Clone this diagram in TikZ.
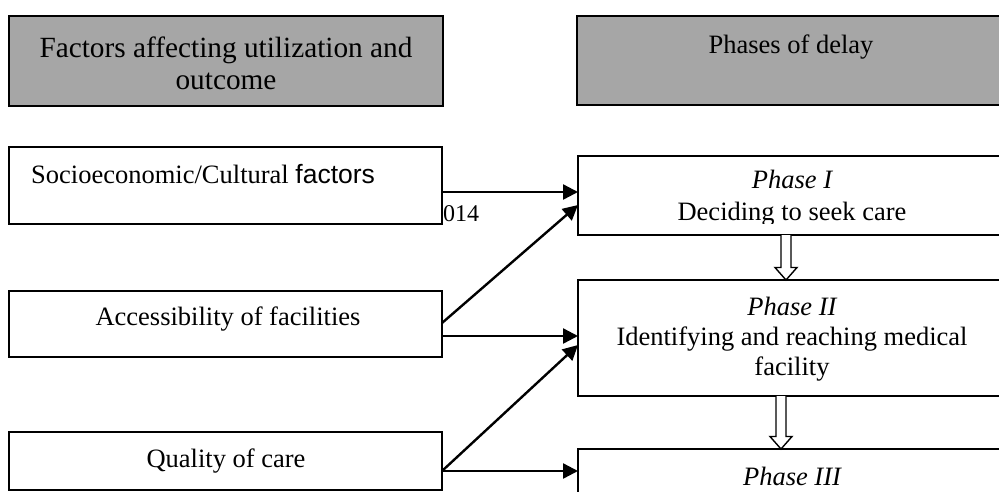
\documentclass[tikz,border=0pt]{standalone}
\usepackage{fontspec}
\setmainfont{Liberation Serif}
\newfontfamily\arialfont{Liberation Sans}
\usetikzlibrary{arrows.meta,calc}
\definecolor{hdrgray}{RGB}{166,166,166}

% hollow block arrow pointing down from #1 to #2
\newcommand\blockarrow[2]{%
  \draw[hollowarrow] ($(#1)+(-5,0)$) -- ($(#2)+(-5,-12.5)$) -- ($(#2)+(-11,-12.5)$)
    -- (#2) -- ($(#2)+(11,-12.5)$) -- ($(#2)+(5,-12.5)$) -- ($(#1)+(5,0)$);}

\begin{document}
\begin{tikzpicture}[x=1pt,y=-1pt,
  box/.style={draw=black, line width=1.6pt, inner sep=0pt, outer sep=0pt,
              anchor=north west, fill=white},
  hdrbox/.style={box, fill=hdrgray},
  bodytext/.style={inner sep=0pt, anchor=base, font=\fontsize{26.5}{30}\selectfont},
  hdrtext/.style={inner sep=0pt, anchor=base, font=\fontsize{29.3}{33}\selectfont},
  phasetext/.style={bodytext, font=\fontsize{26.5}{30}\selectfont\itshape},
  conn/.style={line width=2.4pt, -{Triangle[length=15pt,width=15pt]}},
  hollowarrow/.style={draw=black, line width=1.4pt, fill=white, line join=miter}]

\useasboundingbox (0,0) rectangle (999,491);
\clip (0,0) rectangle (999,491);

% column headers
\node[hdrbox, minimum width=434pt, minimum height=90pt] (hdrL) at (9,16) {};
\node[hdrbox, minimum width=432pt, minimum height=89pt] (hdrR) at (577,16) {};

% factor boxes
\node[box, minimum width=433pt, minimum height=77pt] (soc)  at (9,147) {};
\node[box, minimum width=433pt, minimum height=66pt] (acc)  at (9,291) {};
\node[box, minimum width=433pt, minimum height=58pt] (qual) at (9,432) {};

% phase boxes
\node[box, minimum width=432pt, minimum height=79pt]  (p1) at (578,156) {};
\node[box, minimum width=432pt, minimum height=116pt] (p2) at (578,280) {};
\node[box, minimum width=432pt, minimum height=91pt]  (p3) at (578,449) {};

% connector end points
\coordinate (socR)  at ([yshift=-6.5pt]soc.east);
\coordinate (accR)  at ([yshift=-12pt]acc.east);
\coordinate (accD)  at ([yshift=1pt]acc.east);
\coordinate (qualR) at ([yshift=-10pt]qual.east);
\coordinate (p1in)  at ([yshift=-9.5pt]p1.west);
\coordinate (p2in)  at ([yshift=-7pt]p2.west);

\draw[conn] (socR) -- (socR -| p1.west);
\draw[conn] (accD) -- (p1in);
\draw[conn] (accR) -- (accR -| p2.west);
\draw[conn] (qualR) -- (p2in);
\draw[conn] (qualR) -- (qualR -| p3.west);

% hollow arrows between phases
\coordinate (d1s) at ([xshift=-8pt]p1.south);
\coordinate (d1e) at (d1s |- p2.north);
\coordinate (d2s) at ([xshift=-13pt]p2.south);
\coordinate (d2e) at (d2s |- p3.north);
\blockarrow{d1s}{d1e}
\blockarrow{d2s}{d2e}

% header texts
\node[hdrtext] (tL1) at (226,57) {Factors affecting utilization and};
\node[hdrtext] (tL2) at (226,89) {outcome};
\node[bodytext] (tR) at (791,53) {Phases of delay};

% factor texts
\node[bodytext, anchor=base west] (tSoc) at (31,183)
  {Socioeconomic/Cultural {\arialfont factors}};
\node[inner sep=0pt, anchor=base west, font=\fontsize{24}{28}\selectfont] (tNum) at (443,221) {014};
\node[bodytext] (tAcc) at (228,325) {Accessibility of facilities};
\node[bodytext] (tQual) at (226,467) {Quality of care};

% phase texts
\node[phasetext] (tP1) at (792,188) {Phase I};
\begin{scope}
  \clip (578,150) rectangle (1010,223.5);
  \node[bodytext] (tP1b) at (792,220) {Deciding to seek care};
\end{scope}
\node[phasetext] (tP2) at (792,315) {Phase II};
\node[bodytext] (tP2b) at (792,345) {Identifying and reaching medical};
\node[bodytext] (tP2c) at (792,375) {facility};
\node[phasetext] (tP3) at (792,485) {Phase III};
\end{tikzpicture}
\end{document}
